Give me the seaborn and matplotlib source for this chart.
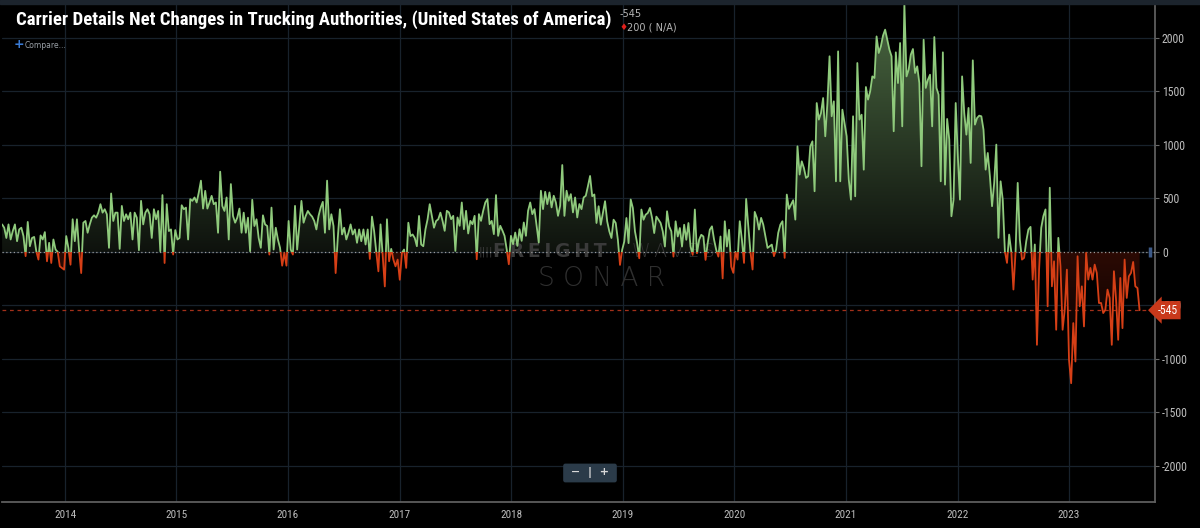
import numpy as np
import pandas as pd
import matplotlib
matplotlib.use("Agg")
import matplotlib.pyplot as plt
import matplotlib.transforms as mtransforms
import matplotlib.dates as mdates
from matplotlib.patches import Rectangle
from matplotlib import font_manager
import seaborn as sns

# =========================
# Data (weekly net changes)
# =========================
start_date = "2013-06-09"

net_2013_2014 = [257, 226, 130, 257, 116, 195, 257, 100, 210, 226,
                 148, -40, 280, 53, 130, 140, 6, -72, 154, 116,
                 185, -88, 85, -104, 116, 22, 0, -135, -150, -166,
                 148, 38, -120, 305, 100, 305, 22, -198, 273, 289,
                 179, 257, 320, 342, 320, 367, 446, 367, 399, 352,
                 38, 546, 289, 367, 367, 28, 430, 289, 352, 305,
                 367, 116, 367, 320, 16, 477, 257, 367, 399, 352]

net_2014_2016 = [130, 399, 305, 383, 6, 531, -104, 446, 195, 210,
                 -25, 204, 116, 130, 436, 399, 414, 116, 493, 477,
                 509, 462, 556, 666, 405, 571, 405, 462, 524, 446,
                 462, 179, 750, 430, 383, 509, 116, 634, 336, 273,
                 320, 405, 179, 367, 179, 320, 6, 487, 242, 305,
                 130, 38, 342, 257, 242, -25, 414, 22, 226, 116,
                 38, -129, -10, -129, 289, 22, -25, 430]

net_2016_2017 = [22, 242, 477, 273, 336, 383, 352, 330, 289, 210,
                 336, 414, 468, 179, 666, 210, 352, 242, -198, 130,
                 399, 163, 226, 116, 179, 257, 163, 210, 85, 210,
                 100, 210, 69, 210, -66, 330, 195, 0, -182, 257,
                 -40, -323, 305, -88, 28, -72, -135, -72, -261, -10,
                 22, -150, 273, 148, 163, 130, 53, 336, 69, 53,
                 210, 305, 446, 336, 226, 289, 305, 367]

net_2017_2018 = [290, 197, 384, 369, 306, 337, 9, 322, 244, 462,
                 212, 384, 172, 290, 259, 337, -69, 353, 290, 384,
                 462, 494, 259, 290, 166, 531, 150, 244, 200, 150,
                 25, -116, 150, 72, 181, 56, 212, 103, 275, 150,
                 384, 462, 353, 400, 244, 87, 572, 400, 562, 447,
                 556, 416, 525, 462, 337, 431, 812, 337, 572, 478,
                 540, 369, 509, 322, 447, 400, 509, 525]

net_2018_2020 = [615, 710, 521, 537, 270, 427, 254, 364, 474, 286,
                 192, 130, 301, 270, 113, -122, 19, 97, 317, 82,
                 490, 411, 192, 82, -60, 396, 301, 348, 364, 411,
                 317, 176, 330, 301, 270, 192, 50, 380, 239, 192,
                 -44, 286, 144, 223, 50, 254, 113, 270, 50, -28,
                 396, -13, 113, 160, 144, -75, 82, 207, 239, 113,
                 19, -44, 144, -248, 286, 50, 207, -138]

net_2020_2021 = [-196, 0, -72, 287, 115, -103, 495, 240, 0, -165,
                 374, 318, 209, 318, 255, 146, 37, 53, 68, -40,
                 22, 178, 255, 287, -56, 536, 402, 442, 483, 302,
                 987, 723, 847, 785, 692, 707, 987, 1034, 567, 1392,
                 1237, 1299, 1439, 1081, 1392, 1829, 1268, 1408, 660, 1875,
                 660, 1330, 1205, 1081, 676, 489, 1268, 520, 1766, 1237,
                 1283, 769, 1542, 1424, 1501, 1641, 1626, 2015]

net_2021_2022 = [1860, 1922, 2022, 2078, 1984, 1891, 1829, 1128, 1866, 1579,
                 1953, 1174, 2321, 1641, 1704, 1844, 1897, 1673, 1735, 1579,
                 801, 1984, 1533, 1610, 1657, 1174, 2009, 1533, 1470, 660,
                 1866, 629, 1243, 1050, 333, 489, 1392, 894, 489, 1641,
                 1299, 1096, 1346, 832, 1791, 1190, 1252, 1274, 1268, 1143,
                 769, 925, 707, 427, 645, 1003, 131, 660, 489, 6,
                 -103, 162, 0, -352, 0, 645, 115, -72]

net_2022_2023 = [-56, 100, 209, 234, -259, 69, -869, -166, 225, 334,
                 397, -509, 600, -322, -88, -728, 131, -134, -728, -541,
                 -166, -1009, -1228, -666, -1025, -41, -509, -322, -697, -9,
                 -259, -150, -259, -119, -197, -478, -478, -572, -541, -353,
                 -431, -869, -181, -447, -822, -244, -713, -72, -431, -228,
                 -197, -94, -322, -338, -545]

last_value = -545
year_ticks = list(range(2014, 2024))
y_ticks = [-2000, -1500, -1000, -500, 0, 500, 1000, 1500, 2000]
y_tick_labels = ["-2000", "-1500", "-1000", "-500", "0", "500", "1000", "1500", "2000"]

title = "Carrier Details Net Changes in Trucking Authorities, (United States of America)"

values = np.array(net_2013_2014 + net_2014_2016 + net_2016_2017 + net_2017_2018
                  + net_2018_2020 + net_2020_2021 + net_2021_2022 + net_2022_2023, dtype=float)
df = pd.DataFrame({"date": pd.date_range(start_date, periods=len(values), freq="7D"),
                   "net": values})

# =========================
# Style
# =========================
GREEN = "#8fca7c"
RED = "#d63f16"
GRID = "#18222c"
TICK = "#bdbdbd"

sns.set_theme(style="dark", rc={
    "axes.facecolor": "black",
    "figure.facecolor": "black",
    "axes.unicode_minus": False,
})

installed = {f.name for f in font_manager.fontManager.ttflist}
narrow = None
for cand in ["Roboto Condensed", "Liberation Sans Narrow", "Open Sans Condensed"]:
    if cand in installed:
        narrow = cand
        break
plt.rcParams["font.family"] = ["DejaVu Sans"]
label_font = narrow if narrow else "Roboto"

fig = plt.figure(figsize=(12, 5.28), dpi=100)
ax = fig.add_axes([2 / 1200, 26.3 / 528, 1153 / 1200, 497.7 / 528])

xmin = pd.Timestamp("2013-06-08 17:00")
xmax = pd.Timestamp("2023-10-09 12:00")
ymin, ymax = -2336, 2318

# lines: green above zero, red below zero
sns.lineplot(data=df, x="date", y="net", color=GREEN, lw=1.3, ax=ax, zorder=4)
pos_line = ax.lines[-1]
sns.lineplot(data=df, x="date", y="net", color=RED, lw=1.3, ax=ax, zorder=4)
neg_line = ax.lines[-1]
blend = mtransforms.blended_transform_factory(ax.transAxes, ax.transData)
pos_line.set_clip_path(Rectangle((0, 0), 1, 10000, transform=blend))
neg_line.set_clip_path(Rectangle((0, -10000), 1, 10000, transform=blend))

# gradient area fill between the line and zero
poly = ax.fill_between(df["date"], df["net"], 0, facecolor="none", edgecolor="none")
yy = np.linspace(ymax, ymin, 600)
img = np.zeros((600, 1, 3))
g0 = np.array([14, 18, 13]) / 255
g1 = np.array([75, 105, 66]) / 255
r0 = np.array([44, 10, 4]) / 255
for i, v in enumerate(yy):
    if v >= 0:
        img[i, 0] = g0 + (g1 - g0) * (v / ymax)
    else:
        img[i, 0] = r0 * max(0.08, 1 + v / 1100)
x0n, x1n = mdates.date2num(xmin), mdates.date2num(xmax)
im = ax.imshow(img, extent=[x0n, x1n, ymin, ymax], aspect="auto", origin="upper",
               zorder=1, interpolation="bilinear")
im.set_clip_path(poly.get_paths()[0], transform=ax.transData)

# reference lines
ax.axhline(0, color="#9a9a9a", ls=(0, (1, 2)), lw=0.9, zorder=3)
ax.axhline(last_value, color="#a3301a", ls=(0, (3, 3)), lw=0.9, zorder=3)
ax.plot([0.9955], [0], transform=blend, marker="|", ms=7, mew=2.5, color="#3d5a88", zorder=5)

# axes
ax.set_xlim(xmin, xmax)
ax.set_ylim(ymin, ymax)
ax.set_xlabel("")
ax.set_ylabel("")
ax.set_xticks([pd.Timestamp(f"{y}-01-01") for y in year_ticks])
ax.set_xticklabels([str(y) for y in year_ticks])
ax.yaxis.tick_right()
ax.set_yticks(y_ticks)
ax.set_yticklabels(y_tick_labels)
ax.grid(True, color=GRID, lw=0.9)
ax.tick_params(axis="x", colors="#6a6a6a", labelcolor=TICK, labelsize=8, length=4, width=0.8, pad=2)
ax.tick_params(axis="y", colors="#6a6a6a", labelcolor=TICK, labelsize=8.5, length=3, width=0.8, pad=2)
for lab in ax.get_xticklabels() + ax.get_yticklabels():
    lab.set_family(label_font)
    if not narrow:
        lab.set_fontstretch("condensed")
for side in ["left", "top"]:
    ax.spines[side].set_visible(False)
for side in ["right", "bottom"]:
    ax.spines[side].set_visible(True)
    ax.spines[side].set_color("#5e5e5e")
    ax.spines[side].set_linewidth(1.3)

# last value tag on the right axis (covers the -500 label, as in the source)
ax.text(1.0025, last_value, "-545", transform=blend, ha="left", va="center", color="white",
        fontsize=8.5, family=label_font, zorder=10, clip_on=False,
        bbox=dict(boxstyle="larrow,pad=0.22", fc="#c9391b", ec="none"))

# watermark
def fx(px):
    return (px - 2) / 1153

ax.text(fx(479), 0, "||||", transform=blend, ha="left", va="center",
        fontsize=8, color="#3a3a3a", zorder=2)
ax.text(fx(493), 0, "\u2009".join("FREIGHT"), transform=blend, ha="left", va="center",
        fontsize=13.5, fontweight="heavy", color="#3a3a3a", zorder=2)
ax.text(fx(632), 0, "\u2009".join("WAVES"), transform=blend, ha="left", va="center",
        fontsize=13.5, fontweight="light", color="#333333", zorder=2)
ax.text(fx(602), -245, "S O N A R", transform=blend, ha="center", va="center",
        fontsize=19, fontweight="light", color="#2f2f2f", zorder=2)

# top strip
fig.patches.append(Rectangle((0, 1 - 4 / 528), 1, 4 / 528, transform=fig.transFigure,
                             color="#1c242d", zorder=0))

# header texts
t = fig.text(16 / 1200, 1 - 20 / 528, title, ha="left", va="center", color="white",
             fontsize=12.5, fontweight="bold", family=label_font)
if not narrow:
    t.set_fontstretch("condensed")
fig.text(620 / 1200, 1 - 14 / 528, "-545", color="#b5b5b5", fontsize=7, va="center")
fig.text(619 / 1200, 1 - 27 / 528, "\u2666", color="#e0201c", fontsize=6.5, va="center")
fig.text(627 / 1200, 1 - 27 / 528, "200 ( N/A)", color="#b5b5b5", fontsize=7, va="center")
fig.text(14 / 1200, 1 - 45 / 528, "+", color="#3a7bd5", fontsize=9, fontweight="bold", va="center")
fig.text(25 / 1200, 1 - 45 / 528, "Compare...", color="#9aa0a6", fontsize=5.5, va="center")

# zoom buttons
fig.text(590 / 1200, 1 - 473 / 528, " \u2212  |  + ", ha="center", va="center", color="#d8d8d8",
         fontsize=8, fontweight="bold",
         bbox=dict(boxstyle="round,pad=0.35,rounding_size=0.2", fc="#2b3b49", ec="none"))

# fit title width to the reference (about 595 px)
fig.canvas.draw()
w = t.get_window_extent().width
t.set_fontsize(12.5 * 595 / w)

fig.savefig("out.png", dpi=100, facecolor="black")
